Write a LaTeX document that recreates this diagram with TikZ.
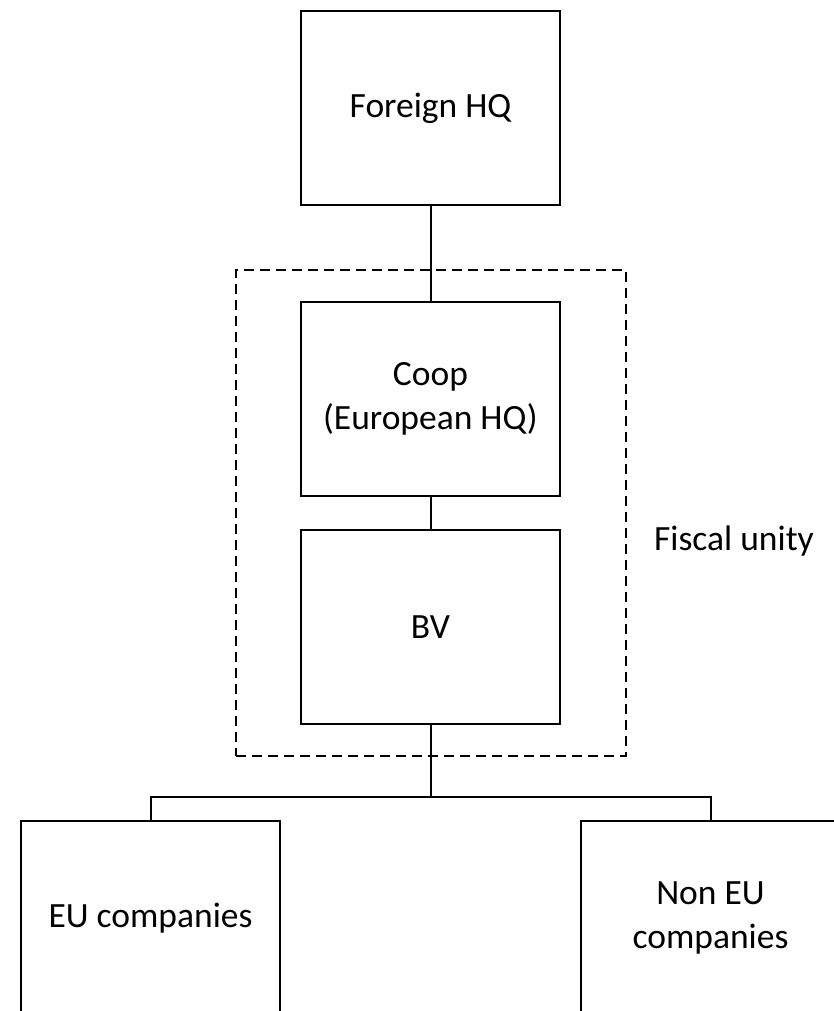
\documentclass[tikz,border=0pt]{standalone}
\usepackage{fontspec}
\setmainfont{Carlito}
\begin{document}
\begin{tikzpicture}[x=1pt,y=1pt,
  every node/.style={font=\fontsize{35.5}{44}\selectfont},
  entity/.style={draw, line width=2pt, inner sep=0pt,
    minimum width=259pt, minimum height=194pt, align=center},
  link/.style={line width=2pt},
  groupbox/.style={draw, line width=1.8pt, dash pattern=on 10pt off 6pt,
    inner sep=0pt, minimum width=390pt, minimum height=486pt}]
  \useasboundingbox (0,0) rectangle (834,-1011);
  \clip (0,0) rectangle (834,-1011);

  % fiscal unity group
  \node[groupbox] (unity) at (430.7,-513) {};
  \node (unitylbl) at (734,-541) {Fiscal unity};

  % entities
  \node[entity] (fhq) at (430.5,-108) {Foreign HQ};
  \node[entity] (coop) at (430.5,-399) {Coop\\(European HQ)};
  \node[entity] (bv) at (430.5,-627) {BV};
  \node[entity] (eu) at (150.5,-918) {EU companies};
  \node[entity] (neu) at (710.5,-918) {Non EU\\companies};

  % ownership links
  \coordinate (jn) at (430.5,-797);
  \draw[link] (fhq.south) -- (coop.north);
  \draw[link] (coop.south) -- (bv.north);
  \draw[link] (bv.south) -- (jn);
  \draw[link] (eu.north) |- (jn) -| (neu.north);
\end{tikzpicture}
\end{document}
